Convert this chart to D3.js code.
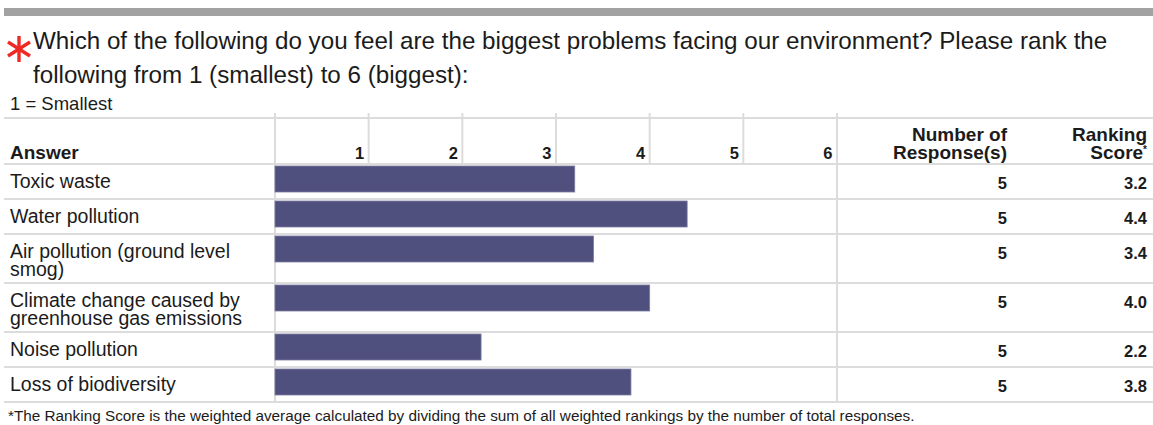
<!DOCTYPE html>
<html>
<head>
<meta charset="utf-8">
<script src="https://cdn.jsdelivr.net/npm/d3@7"></script>
<style>
  html, body { margin: 0; padding: 0; background: #fff; }
  svg { display: block; font-family: "Liberation Sans", Arial, Helvetica, sans-serif; }
</style>
</head>
<body>
<svg id="chart" width="1153" height="425"></svg>
<script>
// Survey question and result data
const questionLines = [
  "Which of the following do you feel are the biggest problems facing our environment? Please rank the",
  "following from 1 (smallest) to 6 (biggest):"
];
const scaleNote = "1 = Smallest";
const categories = [
  "Toxic waste",
  "Water pollution",
  "Air pollution (ground level smog)",
  "Climate change caused by greenhouse gas emissions",
  "Noise pollution",
  "Loss of biodiversity"
];
const responses = [5, 5, 5, 5, 5, 5];
const scores = [3.2, 4.4, 3.4, 4.0, 2.2, 3.8];
const tickValues = [1, 2, 3, 4, 5, 6];
const footnote = "*The Ranking Score is the weighted average calculated by dividing the sum of all weighted rankings by the number of total responses.";

const svg = d3.select("#chart");
const W = 1153;
const tableLeft = 4, tableRight = W;
const headerTop = 118, headerBottom = 164;
const gridColor = "#dcdcdc";
const barColor = "#50507f";
const textColor = "#1b1b1b";

// top rule
svg.append("rect").attr("x", 4).attr("y", 8).attr("width", W - 4).attr("height", 8).attr("fill", "#a2a2a2");

// required-question asterisk
const ast = svg.append("g").attr("transform", "translate(19,49)")
  .attr("stroke", "#ee2a24").attr("stroke-width", 3.4).attr("stroke-linecap", "butt");
ast.append("line").attr("x1", 0).attr("y1", -13).attr("x2", 0).attr("y2", 13);
ast.append("line").attr("x1", -11).attr("y1", -7).attr("x2", 11).attr("y2", 7);
ast.append("line").attr("x1", -11).attr("y1", 7).attr("x2", 11).attr("y2", -7);

// question text
svg.append("g").selectAll("text").data(questionLines).join("text")
  .attr("x", 33).attr("y", (d, i) => 49 + i * 34)
  .attr("font-size", 24.2).attr("fill", textColor).text(d => d);

svg.append("text").attr("x", 10).attr("y", 110).attr("font-size", 18.5)
  .attr("fill", textColor).text(scaleNote);

// word-wrap labels into the answer column
const measurer = svg.append("text").attr("font-size", 19.5).attr("visibility", "hidden");
function wrap(label, maxW) {
  const words = label.split(" ");
  const lines = [];
  let cur = "";
  words.forEach(w => {
    const trial = cur ? cur + " " + w : w;
    measurer.text(trial);
    if (cur && measurer.node().getComputedTextLength() > maxW) {
      lines.push(cur);
      cur = w;
    } else cur = trial;
  });
  lines.push(cur);
  return lines;
}
const rows = categories.map((c, i) => ({
  label: c, lines: wrap(c, 255), responses: responses[i], score: scores[i]
}));
measurer.remove();

// row geometry
let yCursor = headerBottom;
rows.forEach(r => {
  r.top = yCursor;
  r.height = 35 + (r.lines.length - 1) * 14;
  yCursor += r.height;
});
const tableBottom = yCursor;

const x = d3.scaleLinear().domain([0, 6]).range([275, 837]);

// grid lines
const grid = svg.append("g").attr("stroke", gridColor).attr("stroke-width", 2);
[headerTop, headerBottom, ...rows.map(r => r.top + r.height)].forEach(y => {
  grid.append("line").attr("x1", tableLeft).attr("x2", tableRight).attr("y1", y).attr("y2", y);
});
tickValues.slice(0, -1).forEach(t => {
  grid.append("line").attr("x1", x(t)).attr("x2", x(t)).attr("y1", 113).attr("y2", headerBottom);
});
[0, 6].forEach(t => {
  grid.append("line").attr("x1", x(t)).attr("x2", x(t)).attr("y1", 113).attr("y2", tableBottom);
});

// header
const hdr = svg.append("g").attr("font-weight", "bold").attr("fill", textColor);
hdr.append("text").attr("x", 10).attr("y", 159).attr("font-size", 19).text("Answer");

// rank tick labels, right-aligned in each column
const axis = d3.axisTop(x).tickValues(tickValues).tickFormat(d3.format("d")).tickSize(0).tickPadding(0);
const axisG = svg.append("g").attr("transform", `translate(0,159)`).call(axis);
axisG.select(".domain").remove();
axisG.selectAll("text")
  .attr("x", -5).attr("y", 0).attr("dy", 0)
  .attr("text-anchor", "end")
  .attr("font-family", "Liberation Sans, Arial, sans-serif")
  .attr("font-size", 16.5).attr("font-weight", "bold").attr("fill", textColor);

const colResp = 1007, colScore = 1147;
hdr.append("text").attr("x", colResp).attr("y", 141).attr("font-size", 19).attr("text-anchor", "end").text("Number of");
hdr.append("text").attr("x", colResp).attr("y", 159).attr("font-size", 19).attr("text-anchor", "end").text("Response(s)");
hdr.append("text").attr("x", colScore).attr("y", 141).attr("font-size", 19).attr("text-anchor", "end").text("Ranking");
const sc = hdr.append("text").attr("x", colScore).attr("y", 159).attr("font-size", 19).attr("text-anchor", "end");
sc.append("tspan").text("Score");
sc.append("tspan").attr("font-size", 10).attr("dy", -6).text("*");

// rows
const rowG = svg.append("g").selectAll("g").data(rows).join("g")
  .attr("transform", d => `translate(0,${d.top})`);

rowG.append("text").attr("font-size", 19.5).attr("fill", textColor)
  .selectAll("tspan").data(d => d.lines).join("tspan")
  .attr("x", 10).attr("y", (d, i) => 24 + i * 18).text(d => d);

rowG.append("rect")
  .attr("x", x(0)).attr("y", 2)
  .attr("width", d => x(d.score) - x(0)).attr("height", 26)
  .attr("fill", barColor).attr("stroke", "#7a7aa0").attr("stroke-width", 0.8);

rowG.append("text").attr("x", colResp).attr("y", 25).attr("text-anchor", "end")
  .attr("font-size", 16.5).attr("font-weight", "bold").attr("fill", textColor)
  .text(d => d.responses);
rowG.append("text").attr("x", colScore).attr("y", 25).attr("text-anchor", "end")
  .attr("font-size", 16.5).attr("font-weight", "bold").attr("fill", textColor)
  .text(d => d3.format(".1f")(d.score));

// footnote
svg.append("text").attr("x", 8).attr("y", 421).attr("font-size", 15.3).attr("fill", textColor).text(footnote);
</script>
</body>
</html>
